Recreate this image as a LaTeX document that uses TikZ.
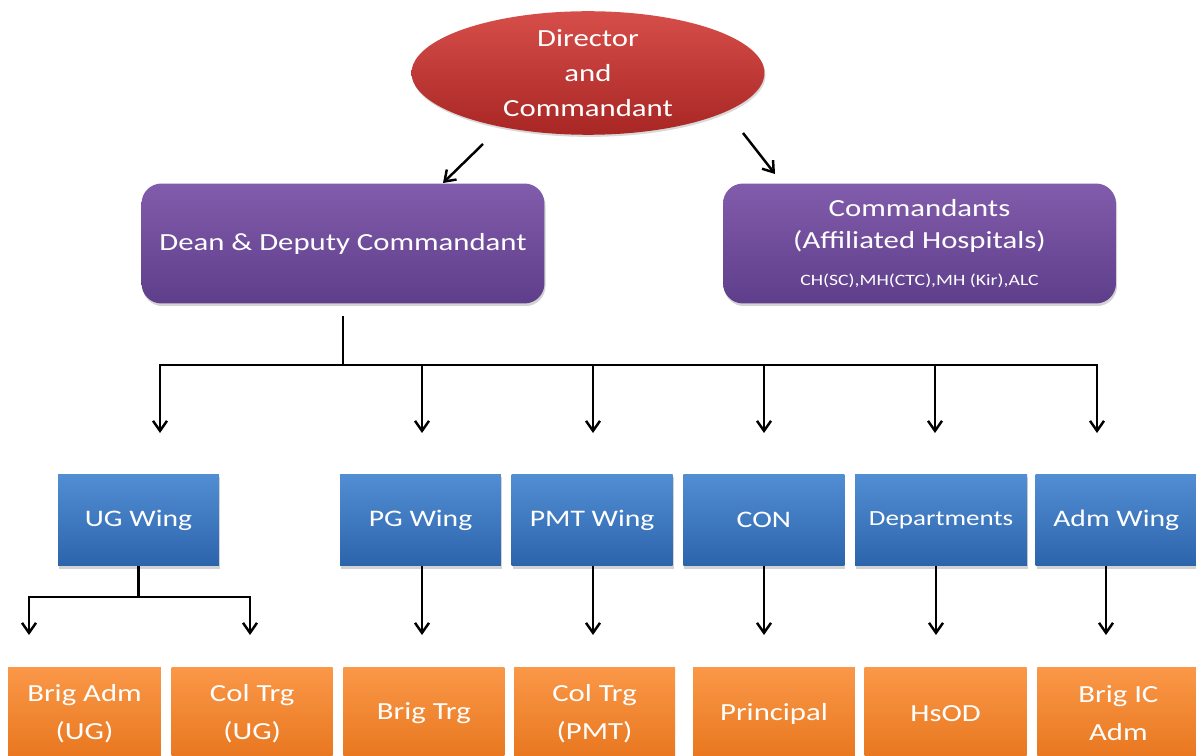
\documentclass[tikz,border=0pt]{standalone}
\usepackage{fontspec}
\setmainfont{Carlito}[FakeStretch=1.25]
\usepackage{tikz}
\usetikzlibrary{positioning}
\usetikzlibrary{shapes.geometric, shadows}
\usetikzlibrary{arrows.meta}
\tikzstyle{line} = [draw, line width=1.4pt, -{Straight Barb[length=2mm, width=2.8mm]}]
\tikzstyle{bar} = [draw, line width=1.4pt]
\definecolor{redtop}{RGB}{214,78,74}
\definecolor{redbot}{RGB}{168,38,36}
\definecolor{purtop}{RGB}{130,92,172}
\definecolor{purbot}{RGB}{94,62,138}
\definecolor{bluetop}{RGB}{82,142,212}
\definecolor{bluebot}{RGB}{44,100,172}
\definecolor{orgtop}{RGB}{250,152,72}
\definecolor{orgbot}{RGB}{232,118,30}

\begin{document}
\begin{tikzpicture}[x=0.02cm, y=-0.02cm,
				chief/.style={ellipse, inner sep=0pt, minimum width=7.06cm, minimum height=2.46cm,
					top color=redtop, bottom color=redbot, text=white, align=center,
					font=\fontsize{14}{20}\selectfont,
					drop shadow={shadow xshift=0.6pt, shadow yshift=-1.2pt, opacity=0.3}},
				head/.style={rectangle, rounded corners=0.4cm, inner sep=2pt, minimum height=2.4cm,
					top color=purtop, bottom color=purbot, text=white, align=center,
					font=\fontsize{14}{18}\selectfont,
					drop shadow={shadow xshift=0.6pt, shadow yshift=-1.5pt, opacity=0.35}},
				wing/.style={rectangle, inner sep=1pt, minimum width=3.22cm, minimum height=1.84cm,
					top color=bluetop, bottom color=bluebot, text=white, align=center,
					font=\fontsize{13.5}{18}\selectfont,
					drop shadow={shadow xshift=0.6pt, shadow yshift=-1.5pt, opacity=0.35}},
				post/.style={rectangle, inner sep=1pt, minimum width=3.22cm, minimum height=1.86cm,
					top color=orgtop, bottom color=orgbot, text=white, align=center,
					font=\fontsize{14}{21.5}\selectfont}]
				\useasboundingbox (0,0) rectangle (1196,756);

				% top of the chart
				\node[chief](dir) at (588,73) {Director\\and\\Commandant};
				\node[head, minimum width=8.06cm](dean) at (343,243.5) {Dean \& Deputy Commandant};
				\node[head, minimum width=7.86cm](comd) at (919.5,243.5) {Commandants\\(Affiliated Hospitals)\\[3pt]{\fontsize{9}{12}\selectfont CH(SC),MH(CTC),MH (Kir),ALC}};

				\coordinate (dirL) at (483,144);
				\coordinate (deanT) at (443,183);
				\coordinate (dirR) at (743,133);
				\coordinate (comdT) at (775,174);
				\draw[line] (dirL) -- (deanT);
				\draw[line] (dirR) -- (comdT);

				% wings
				\node[wing](ug) at (138.5,520) {UG Wing};
				\node[wing](pg) at (420.5,520) {PG Wing};
				\node[wing, right=0.2cm of pg](pmt) {PMT Wing};
				\node[wing, right=0.2cm of pmt](con) {CON};
				\node[wing, right=0.2cm of con, minimum width=3.44cm, font=\fontsize{12.3}{16}\selectfont](dep) {Departments};
				\node[wing, right=0.16cm of dep](adm) {Adm Wing};

				% posts
				\node[post, minimum width=3.06cm](brigadm) at (84.5,713.5) {Brig Adm\\(UG)};
				\node[post, right=0.2cm of brigadm](coltrgug) {Col Trg\\(UG)};
				\node[post, right=0.2cm of coltrgug](brigtrg) {Brig Trg};
				\node[post, right=0.18cm of brigtrg](coltrgpmt) {Col Trg\\(PMT)};
				\node[post, minimum width=3.24cm](principal) at (774,713.5) {Principal};
				\node[post, minimum width=3.24cm, right=0.18cm of principal](hsod) {HsOD};
				\node[post, minimum width=3.24cm, right=0.2cm of hsod](brigic) {Brig IC\\Adm};

				% dean to the wings
				\coordinate (bus) at (343,365);
				\draw[bar, shorten <=0.24cm] (dean.south) -- (bus);
				\foreach \x [count=\i] in {160,422,593,764,935,1097}
					\coordinate (tip\i) at (\x,433);
				\draw[line] (bus) -| (tip1);
				\draw[line] (bus) -| (tip6);
				\foreach \i in {2,...,5}
					\draw[line] (tip\i |- bus) -- (tip\i);

				% wings to the posts
				\coordinate (ugbus) at (138.5,597);
				\coordinate (ugA) at (29,635);
				\coordinate (ugB) at (250,635);
				\draw[bar] (ug.south) -- (ugbus);
				\draw[line] (ugbus) -| (ugA);
				\draw[line] (ugbus) -| (ugB);
				\foreach \w/\x in {pg/422, pmt/593, con/764, dep/936, adm/1106}
					\draw[line] (\x,0 |- \w.south) -- (\x,635);
			\end{tikzpicture}
\end{document}
